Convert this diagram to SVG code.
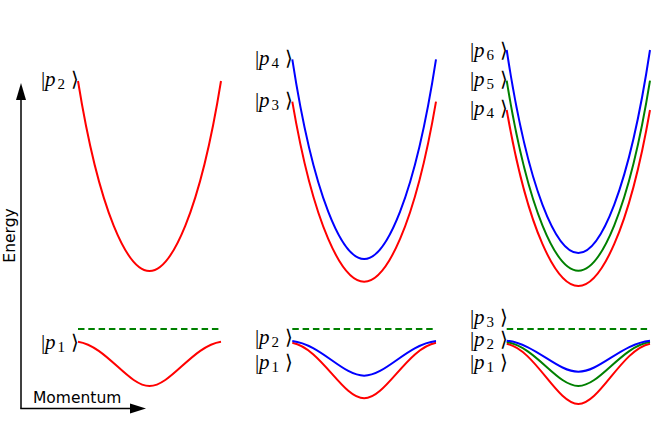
<svg xmlns="http://www.w3.org/2000/svg" width="664" height="443" viewBox="0 0 664 443">
<style>
.lbl{font-family:"Liberation Serif","DejaVu Serif",serif;font-size:21px;fill:#000}
.it{font-style:italic}
.sub{font-size:15px}
.br{font-family:"DejaVu Sans",sans-serif;font-size:20px;font-weight:200}
.band{fill:none;stroke-width:2}
.r{stroke:#ff0000}.b{stroke:#0000ff}.g{stroke:#008000}
.dash{fill:none;stroke:#008000;stroke-width:2;stroke-dasharray:6.5 3.8}
.axis{stroke:#000;stroke-width:1.5;fill:none}
.axlbl{font-family:"DejaVu Sans",sans-serif;font-size:15.5px;fill:#000}
</style>
<rect width="664" height="443" fill="#fff"/>
<g id="axes">
<line class="axis" x1="21" y1="408.5" x2="21" y2="98"/>
<polygon points="21,83 16,100 26,100" fill="#000"/>
<line class="axis" x1="20.25" y1="408.5" x2="132" y2="408.5"/>
<polygon points="146,408.5 130,403.5 130,413.5" fill="#000"/>
<text class="axlbl" transform="translate(14.5,235.5) rotate(-90)" text-anchor="middle">Energy</text>
<text class="axlbl" x="33" y="403">Momentum</text>
</g>
<g id="panel1">
<line class="dash" x1="78" y1="329" x2="221" y2="329"/>
<path class="band r" d="M78,81 C99.45,214 128.05,271 149.5,271 S199.55,214 221,81"/>
<path class="band r" d="M78,341.7 C106.6,346.1 128.05,386 149.5,386 S192.4,346.1 221,341.7"/>
<text class="lbl" y="86"><tspan x="41">|</tspan><tspan x="45" class="it">p</tspan><tspan x="57.5" dy="3" class="sub">2</tspan><tspan x="70.5" dy="-3" class="br">⟩</tspan></text>
<text class="lbl" y="348.5"><tspan x="41">|</tspan><tspan x="45" class="it">p</tspan><tspan x="57.5" dy="3" class="sub">1</tspan><tspan x="70.5" dy="-3" class="br">⟩</tspan></text>
</g>
<g id="panel2">
<line class="dash" x1="292.3" y1="329" x2="436" y2="329"/>
<path class="band r" d="M292.3,101.7 C313.85,227.7 342.6,281.7 364.15,281.7 S414.45,227.7 436,101.7"/>
<path class="band b" d="M292.3,59.3 C313.85,199.1 342.6,259 364.15,259 S414.45,199.1 436,59.3"/>
<path class="band r" d="M292.3,342.7 C321.05,348.3 342.6,398.3 364.15,398.3 S407.25,348.3 436,342.7"/>
<path class="band b" d="M292.3,341 C321.05,344.5 342.6,375.7 364.15,375.7 S407.25,344.5 436,341"/>
<text class="lbl" y="65"><tspan x="255">|</tspan><tspan x="259" class="it">p</tspan><tspan x="271.5" dy="3" class="sub">4</tspan><tspan x="284.5" dy="-3" class="br">⟩</tspan></text>
<text class="lbl" y="107"><tspan x="255">|</tspan><tspan x="259" class="it">p</tspan><tspan x="271.5" dy="3" class="sub">3</tspan><tspan x="284.5" dy="-3" class="br">⟩</tspan></text>
<text class="lbl" y="343.5"><tspan x="255">|</tspan><tspan x="259" class="it">p</tspan><tspan x="271.5" dy="3" class="sub">2</tspan><tspan x="284.5" dy="-3" class="br">⟩</tspan></text>
<text class="lbl" y="368.5"><tspan x="255">|</tspan><tspan x="259" class="it">p</tspan><tspan x="271.5" dy="3" class="sub">1</tspan><tspan x="284.5" dy="-3" class="br">⟩</tspan></text>
</g>
<g id="panel3">
<line class="dash" x1="506.7" y1="329" x2="650" y2="329"/>
<path class="band r" d="M506.7,110 C528.2,233.2 556.85,286 578.35,286 S628.5,233.2 650,110"/>
<path class="band g" d="M506.7,80.7 C528.2,213.7 556.85,270.7 578.35,270.7 S628.5,213.7 650,80.7"/>
<path class="band b" d="M506.7,50 C528.2,192.1 556.85,253 578.35,253 S628.5,192.1 650,50"/>
<path class="band r" d="M506.7,343.7 C535.35,349.7 556.85,404 578.35,404 S621.35,349.7 650,343.7"/>
<path class="band g" d="M506.7,342 C535.35,346.4 556.85,386 578.35,386 S621.35,346.4 650,342"/>
<path class="band b" d="M506.7,340.7 C535.35,343.8 556.85,371.7 578.35,371.7 S621.35,343.8 650,340.7"/>
<text class="lbl" y="57"><tspan x="470">|</tspan><tspan x="474" class="it">p</tspan><tspan x="486.5" dy="3" class="sub">6</tspan><tspan x="499.5" dy="-3" class="br">⟩</tspan></text>
<text class="lbl" y="86"><tspan x="470">|</tspan><tspan x="474" class="it">p</tspan><tspan x="486.5" dy="3" class="sub">5</tspan><tspan x="499.5" dy="-3" class="br">⟩</tspan></text>
<text class="lbl" y="114.5"><tspan x="470">|</tspan><tspan x="474" class="it">p</tspan><tspan x="486.5" dy="3" class="sub">4</tspan><tspan x="499.5" dy="-3" class="br">⟩</tspan></text>
<text class="lbl" y="324"><tspan x="470">|</tspan><tspan x="474" class="it">p</tspan><tspan x="486.5" dy="3" class="sub">3</tspan><tspan x="499.5" dy="-3" class="br">⟩</tspan></text>
<text class="lbl" y="345.5"><tspan x="470">|</tspan><tspan x="474" class="it">p</tspan><tspan x="486.5" dy="3" class="sub">2</tspan><tspan x="499.5" dy="-3" class="br">⟩</tspan></text>
<text class="lbl" y="368.5"><tspan x="470">|</tspan><tspan x="474" class="it">p</tspan><tspan x="486.5" dy="3" class="sub">1</tspan><tspan x="499.5" dy="-3" class="br">⟩</tspan></text>
</g>
</svg>
